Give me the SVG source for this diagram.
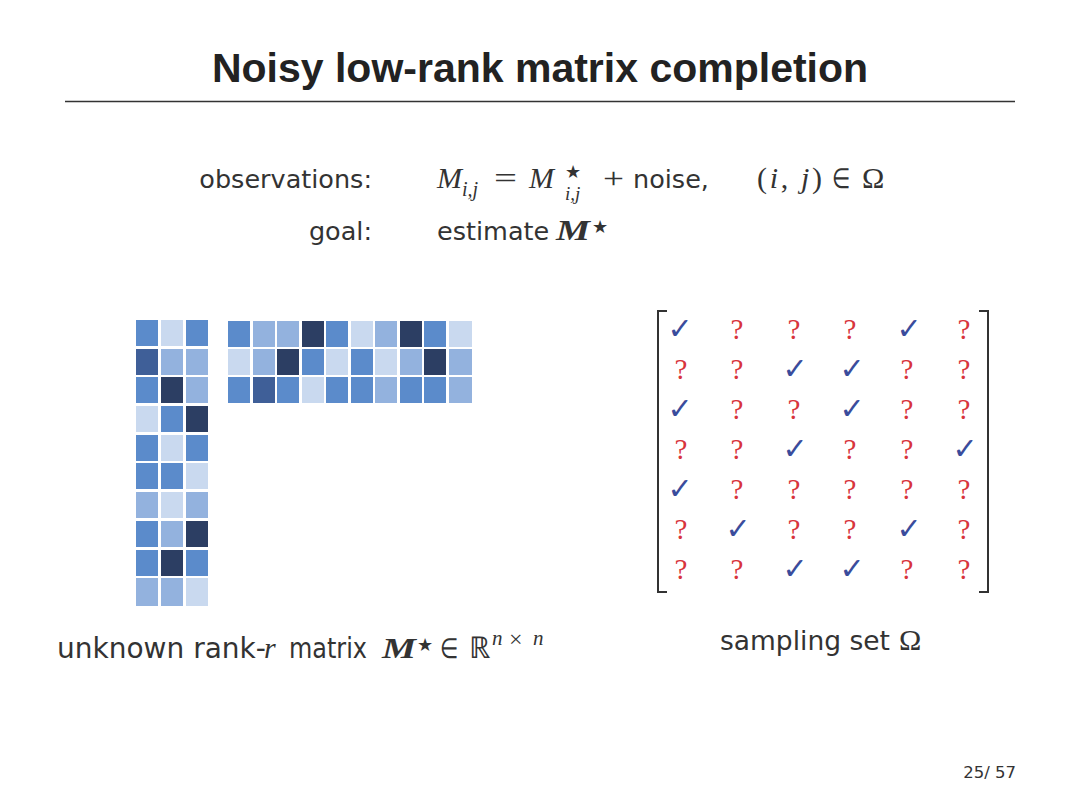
<svg xmlns="http://www.w3.org/2000/svg" width="1080" height="810" viewBox="0 0 1080 810">
<style>
.sans{font-family:"DejaVu Sans","Liberation Sans",sans-serif;fill:#333}
.title{font-family:"Liberation Sans",Arial,sans-serif;font-weight:bold;fill:#222}
.m{font-family:"Liberation Serif","Times New Roman",serif;fill:#333}
.it{font-style:italic}
.bi{font-style:italic;font-weight:bold}
.star{font-family:"DejaVu Sans",sans-serif;font-style:normal;font-weight:normal;fill:#333;font-size:18px}
.c0{fill:#2c3e63}.c1{fill:#3f5f98}.c2{fill:#5b8bcb}.c3{fill:#93b2de}.c4{fill:#c9d9ef}
.chk{font-family:"DejaVu Sans",sans-serif;fill:#3a4c9c;font-size:30px;text-anchor:middle}
.q{font-family:"Liberation Serif",serif;fill:#d8343c;font-size:29px;text-anchor:middle}
</style>
<rect width="1080" height="810" fill="#fff"/>
<g id="title">
<text class="title" x="540" y="82" font-size="41" text-anchor="middle">Noisy low-rank matrix completion</text>
<line x1="65" y1="101.5" x2="1015" y2="101.5" stroke="#333" stroke-width="1.5"/>
</g>
<g id="observations">
<text class="sans" x="372" y="188" font-size="25.5" text-anchor="end">observations:</text>
<text class="m" y="188" font-size="30"><tspan class="it" x="437">M</tspan><tspan class="it" x="462" y="196" font-size="20">i,j</tspan></text>
<text class="m" x="494" y="188" font-size="30" textLength="23" lengthAdjust="spacingAndGlyphs">=</text>
<text class="m" y="188" font-size="30"><tspan class="it" x="529">M</tspan><tspan class="star" x="565" y="178">★</tspan><tspan class="it" x="565" y="200" font-size="19">i,j</tspan></text>
<text class="m" x="603" y="188" font-size="30" textLength="21" lengthAdjust="spacingAndGlyphs">+</text>
<text class="sans" x="633" y="188" font-size="25.5">noise,</text>
<text class="m" x="757" y="188" font-size="30" textLength="65" lengthAdjust="spacing">(<tspan class="it">i</tspan>, <tspan class="it">j</tspan>)</text>
<text class="m" x="832" y="188" font-size="28" textLength="18" lengthAdjust="spacingAndGlyphs">∈</text>
<text class="m" x="862" y="188" font-size="30">Ω</text>
</g>
<g id="goal">
<text class="sans" x="372" y="240" font-size="25.5" text-anchor="end">goal:</text>
<text class="sans" x="437" y="240" font-size="25.5">estimate</text>
<text class="m" y="240" font-size="30"><tspan class="bi" x="556" textLength="34" lengthAdjust="spacingAndGlyphs">M</tspan><tspan class="star" x="592" y="233">★</tspan></text>
</g>
<g id="factor-left">
<rect class="c2" x="136" y="320" width="22" height="26"/><rect class="c4" x="161" y="320" width="22" height="26"/><rect class="c2" x="186" y="320" width="22" height="26"/>
<rect class="c1" x="136" y="349" width="22" height="26"/><rect class="c3" x="161" y="349" width="22" height="26"/><rect class="c3" x="186" y="349" width="22" height="26"/>
<rect class="c2" x="136" y="377" width="22" height="26"/><rect class="c0" x="161" y="377" width="22" height="26"/><rect class="c3" x="186" y="377" width="22" height="26"/>
<rect class="c4" x="136" y="406" width="22" height="26"/><rect class="c2" x="161" y="406" width="22" height="26"/><rect class="c0" x="186" y="406" width="22" height="26"/>
<rect class="c2" x="136" y="435" width="22" height="26"/><rect class="c4" x="161" y="435" width="22" height="26"/><rect class="c2" x="186" y="435" width="22" height="26"/>
<rect class="c2" x="136" y="463" width="22" height="26"/><rect class="c2" x="161" y="463" width="22" height="26"/><rect class="c4" x="186" y="463" width="22" height="26"/>
<rect class="c3" x="136" y="492" width="22" height="26"/><rect class="c4" x="161" y="492" width="22" height="26"/><rect class="c3" x="186" y="492" width="22" height="26"/>
<rect class="c2" x="136" y="521" width="22" height="26"/><rect class="c3" x="161" y="521" width="22" height="26"/><rect class="c0" x="186" y="521" width="22" height="26"/>
<rect class="c2" x="136" y="550" width="22" height="26"/><rect class="c0" x="161" y="550" width="22" height="26"/><rect class="c2" x="186" y="550" width="22" height="26"/>
<rect class="c3" x="136" y="578" width="22" height="28"/><rect class="c3" x="161" y="578" width="22" height="28"/><rect class="c4" x="186" y="578" width="22" height="28"/>
</g>
<g id="factor-right">
<rect class="c2" x="228" y="321" width="22" height="26"/><rect class="c3" x="253" y="321" width="22" height="26"/><rect class="c3" x="277" y="321" width="22" height="26"/><rect class="c0" x="302" y="321" width="22" height="26"/><rect class="c2" x="326" y="321" width="22" height="26"/><rect class="c4" x="351" y="321" width="22" height="26"/><rect class="c3" x="375" y="321" width="22" height="26"/><rect class="c0" x="400" y="321" width="22" height="26"/><rect class="c2" x="424" y="321" width="22" height="26"/><rect class="c4" x="449" y="321" width="23" height="26"/>
<rect class="c4" x="228" y="349" width="22" height="26"/><rect class="c3" x="253" y="349" width="22" height="26"/><rect class="c0" x="277" y="349" width="22" height="26"/><rect class="c2" x="302" y="349" width="22" height="26"/><rect class="c4" x="326" y="349" width="22" height="26"/><rect class="c2" x="351" y="349" width="22" height="26"/><rect class="c4" x="375" y="349" width="22" height="26"/><rect class="c3" x="400" y="349" width="22" height="26"/><rect class="c0" x="424" y="349" width="22" height="26"/><rect class="c3" x="449" y="349" width="23" height="26"/>
<rect class="c2" x="228" y="377" width="22" height="26"/><rect class="c1" x="253" y="377" width="22" height="26"/><rect class="c2" x="277" y="377" width="22" height="26"/><rect class="c4" x="302" y="377" width="22" height="26"/><rect class="c2" x="326" y="377" width="22" height="26"/><rect class="c2" x="351" y="377" width="22" height="26"/><rect class="c3" x="375" y="377" width="22" height="26"/><rect class="c2" x="400" y="377" width="22" height="26"/><rect class="c2" x="424" y="377" width="22" height="26"/><rect class="c3" x="449" y="377" width="23" height="26"/>
</g>
<g id="caption-left">
<text class="sans" x="57" y="658" font-size="28">unknown rank-</text>
<text class="m it" x="264" y="658" font-size="30">r</text>
<text class="sans" x="289" y="658" font-size="28" textLength="78" lengthAdjust="spacingAndGlyphs">matrix</text>
<text class="m" y="658" font-size="30"><tspan class="bi" x="382" textLength="34" lengthAdjust="spacingAndGlyphs">M</tspan><tspan class="star" x="417" y="651">★</tspan></text>
<text class="m" x="440" y="658" font-size="28" textLength="18" lengthAdjust="spacingAndGlyphs">∈</text>
<text class="m" y="658" font-size="30"><tspan x="469" textLength="21" lengthAdjust="spacingAndGlyphs">ℝ</tspan><tspan class="it" x="492" y="645" font-size="21">n</tspan><tspan x="509" y="647" font-size="24">×</tspan><tspan class="it" x="533" y="645" font-size="21">n</tspan></text>
</g>
<g id="sampling-set">
<path d="M667,311 H658 V592 H667 M979,311 H988 V592 H979" fill="none" stroke="#333" stroke-width="2"/>
<g class="row">
<text class="chk" x="680" y="339">✓</text><text class="q" x="737" y="339">?</text><text class="q" x="794" y="339">?</text><text class="q" x="850" y="339">?</text><text class="chk" x="909" y="339">✓</text><text class="q" x="964" y="339">?</text>
</g>
<g class="row">
<text class="q" x="681" y="379">?</text><text class="q" x="737" y="379">?</text><text class="chk" x="795" y="379">✓</text><text class="chk" x="852" y="379">✓</text><text class="q" x="907" y="379">?</text><text class="q" x="964" y="379">?</text>
</g>
<g class="row">
<text class="chk" x="680" y="419">✓</text><text class="q" x="737" y="419">?</text><text class="q" x="794" y="419">?</text><text class="chk" x="852" y="419">✓</text><text class="q" x="907" y="419">?</text><text class="q" x="964" y="419">?</text>
</g>
<g class="row">
<text class="q" x="681" y="459">?</text><text class="q" x="737" y="459">?</text><text class="chk" x="795" y="459">✓</text><text class="q" x="850" y="459">?</text><text class="q" x="907" y="459">?</text><text class="chk" x="965" y="459">✓</text>
</g>
<g class="row">
<text class="chk" x="680" y="499">✓</text><text class="q" x="737" y="499">?</text><text class="q" x="794" y="499">?</text><text class="q" x="850" y="499">?</text><text class="q" x="907" y="499">?</text><text class="q" x="964" y="499">?</text>
</g>
<g class="row">
<text class="q" x="681" y="539">?</text><text class="chk" x="738" y="539">✓</text><text class="q" x="794" y="539">?</text><text class="q" x="850" y="539">?</text><text class="chk" x="909" y="539">✓</text><text class="q" x="964" y="539">?</text>
</g>
<g class="row">
<text class="q" x="681" y="579">?</text><text class="q" x="737" y="579">?</text><text class="chk" x="795" y="579">✓</text><text class="chk" x="852" y="579">✓</text><text class="q" x="907" y="579">?</text><text class="q" x="964" y="579">?</text>
</g>
<text class="sans" x="720" y="650" font-size="26.5">sampling set</text>
<text class="m" x="899" y="650" font-size="30">Ω</text>
</g>
<g id="page-number">
<text class="sans" x="1016" y="778" font-size="16.5" text-anchor="end">25/ 57</text>
</g>
</svg>
